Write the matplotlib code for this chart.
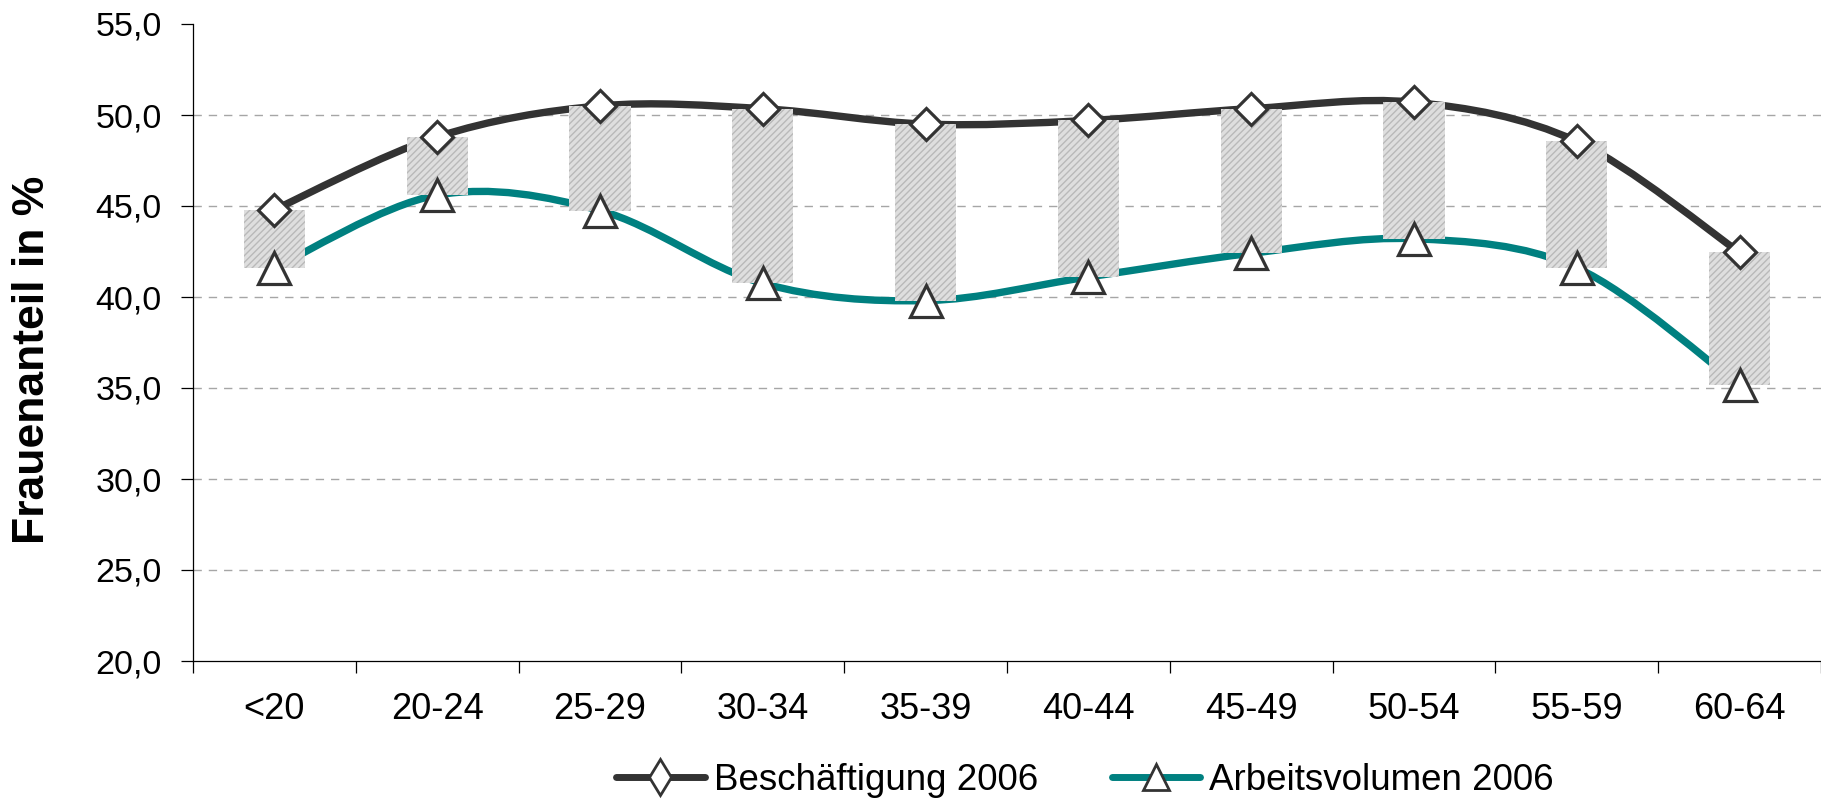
import numpy as np
import matplotlib
matplotlib.use("Agg")
import matplotlib.pyplot as plt
from matplotlib.path import Path
from matplotlib.patches import PathPatch
from matplotlib.lines import Line2D
from matplotlib.ticker import FuncFormatter, FixedLocator
from matplotlib import font_manager as fm

categories = ["<20", "20-24", "25-29", "30-34", "35-39", "40-44", "45-49", "50-54", "55-59", "60-64"]
beschaeftigung = [44.8, 48.8, 50.5, 50.35, 49.5, 49.7, 50.35, 50.7, 48.55, 42.45]
arbeitsvolumen = [41.6, 45.6, 44.75, 40.75, 39.8, 41.1, 42.4, 43.2, 41.6, 35.15]
y_ticks = [20, 25, 30, 35, 40, 45, 50, 55]
series_names = ["Beschäftigung 2006", "Arbeitsvolumen 2006"]

plt.rcParams['font.family'] = ['Liberation Sans', 'DejaVu Sans']
plt.rcParams['hatch.color'] = '#b9b9b9'
plt.rcParams['hatch.linewidth'] = 1.0

DARK = '#333333'
TEAL = '#008080'

fig = plt.figure(figsize=(18.21, 7.99), dpi=100)
ax = fig.add_axes([193/1821, 1-661/799, (1821-193)/1821, (661-24)/799])

x = np.arange(len(categories))


def smooth_path(xs, ys):
    pts = np.column_stack([xs, ys]).astype(float)
    n = len(pts)
    verts = [pts[0]]
    codes = [Path.MOVETO]
    for i in range(n - 1):
        p0 = pts[i - 1] if i > 0 else pts[i]
        p1 = pts[i]
        p2 = pts[i + 1]
        p3 = pts[i + 2] if i + 2 < n else pts[i + 1]
        c1 = p1 + (p2 - p0) / 6.0
        c2 = p2 - (p3 - p1) / 6.0
        verts += [c1, c2, p2]
        codes += [Path.CURVE4] * 3
    return Path(verts, codes)


for ys, col in [(beschaeftigung, DARK), (arbeitsvolumen, TEAL)]:
    patch = PathPatch(smooth_path(x, ys), facecolor='none', edgecolor=col,
                      lw=5.3, capstyle='round', joinstyle='round', zorder=2)
    ax.add_patch(patch)

# high-low bars
b = np.array(beschaeftigung)
a = np.array(arbeitsvolumen)
ax.bar(x, b - a, bottom=a, width=0.375, color='#dedede', linewidth=0,
       hatch='/////', zorder=3)

ax.plot(x, beschaeftigung, linestyle='none', marker='D', markersize=16,
        markerfacecolor='white', markeredgecolor=DARK, markeredgewidth=2.3, zorder=5)
ax.plot(x, arbeitsvolumen, linestyle='none', marker='^', markersize=22.5,
        markerfacecolor='white', markeredgecolor=DARK, markeredgewidth=2.3, zorder=5)

ax.set_xlim(-0.5, len(categories) - 0.5)
ax.set_ylim(y_ticks[0], y_ticks[-1])

ax.set_yticks(y_ticks)
ax.yaxis.set_major_formatter(FuncFormatter(lambda v, p: f"{v:.1f}".replace('.', ',')))
ax.tick_params(axis='y', length=8.4, width=0.9, pad=14, labelsize=24.5, color='black')

ax.set_xticks(x)
ax.set_xticklabels(categories)
ax.xaxis.set_minor_locator(FixedLocator(np.arange(len(categories) + 1) - 0.5))
ax.tick_params(axis='x', which='major', length=0, pad=22, labelsize=26)
ax.tick_params(axis='x', which='minor', length=8.4, width=0.9, color='black')

for s in ['top', 'right']:
    ax.spines[s].set_visible(False)
for s in ['left', 'bottom']:
    ax.spines[s].set_linewidth(0.9)
    ax.spines[s].set_color('black')

ax.yaxis.grid(True, color='#a6a6a6', linestyle=(0, (6, 5)), linewidth=1.0, zorder=0)
ax.set_axisbelow(True)
gls = ax.get_ygridlines()
gls[0].set_visible(False)
gls[-1].set_visible(False)

names = {f.name for f in fm.fontManager.ttflist}
if 'Liberation Sans Narrow' in names:
    yl_family, yl_size = 'Liberation Sans Narrow', 39
else:
    yl_family, yl_size = 'Liberation Sans', 32
fig.text(33/1821, 1-360/799, "Frauenanteil in %", rotation=90, ha='center', va='center',
         fontsize=yl_size, fontweight='bold', family=[yl_family, 'DejaVu Sans'])

handles = [
    Line2D([], [], color=DARK, lw=5.0, solid_capstyle='round', marker='d', markersize=18,
           markerfacecolor='white', markeredgecolor=DARK, markeredgewidth=2.0),
    Line2D([], [], color=TEAL, lw=5.0, solid_capstyle='round', marker='^', markersize=19,
           markerfacecolor='white', markeredgecolor=DARK, markeredgewidth=2.0),
]
fig.legend(handles, series_names, loc='center', bbox_to_anchor=(1085/1821, 1-780/799),
           ncol=2, frameon=False, fontsize=26.5, handlelength=2.4, handletextpad=0.25,
           columnspacing=2.0, borderpad=0)

fig.savefig("out.png", dpi=100)
